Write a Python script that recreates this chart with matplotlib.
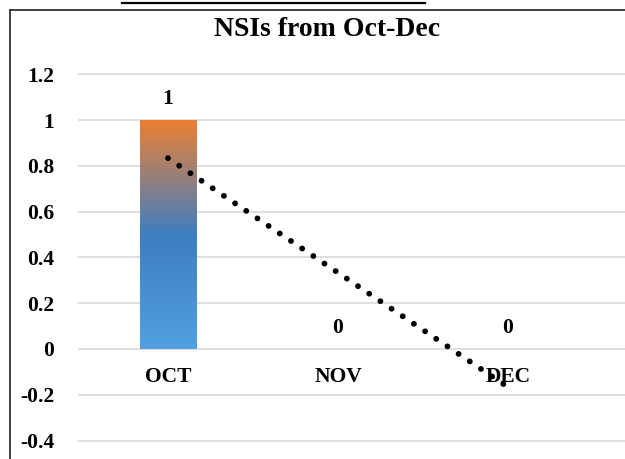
import numpy as np
import matplotlib
matplotlib.use("Agg")
import matplotlib.pyplot as plt
from matplotlib.colors import LinearSegmentedColormap
from matplotlib.lines import Line2D

months = ["OCT", "NOV", "DEC"]
nsi_counts = [1, 0, 0]
y_ticks = [-0.4, -0.2, 0, 0.2, 0.4, 0.6, 0.8, 1, 1.2]

plt.rcParams["font.family"] = ["Liberation Serif", "DejaVu Serif"]

W, H = 625, 459
fig = plt.figure(figsize=(W / 100, H / 100), dpi=100)

# plot area in pixels: left 78, right 700 (goes off the picture), top 60, bottom 500
ax = fig.add_axes([78 / W, (H - 500) / H, (700 - 78) / W, 440 / H])
x = np.arange(len(months))
ax.set_xlim((78 - 168) / 170, (700 - 168) / 170)
ax.set_ylim((349 - 500) / 229, (349 - 60) / 229)

for s in ax.spines.values():
    s.set_visible(False)
ax.set_yticks(y_ticks)
ax.set_yticklabels([f"{v:g}" for v in y_ticks], fontsize=15.5, fontweight="bold")
ax.tick_params(axis="y", length=0, pad=17)
ax.set_xticks([])
ax.grid(axis="y", color="#d9d9d9", linewidth=1.2)
ax.set_axisbelow(True)

# gradient bars
cmap = LinearSegmentedColormap.from_list(
    "og", [(0, "#52a0e2"), (0.5, "#3d7ebf"), (0.68, "#7d8090"), (1, "#ec7f33")])
bars = ax.bar(x, nsi_counts, width=0.335, color="none", edgecolor="none", zorder=2)
for b, v in zip(bars, nsi_counts):
    if v == 0:
        continue
    grad = np.linspace(0, 1, 256).reshape(-1, 1)
    im = ax.imshow(grad, cmap=cmap, origin="lower", aspect="auto",
                   extent=[b.get_x(), b.get_x() + b.get_width(), 0, v], zorder=2)
    im.set_clip_path(b)

# data labels and category labels
for xi, v, m in zip(x, nsi_counts, months):
    ax.annotate(f"{v:g}", (xi, v), xytext=(0, 8), textcoords="offset points",
                ha="center", va="bottom", fontsize=15.5, fontweight="bold")
    ax.annotate(m, (xi, 0), xytext=(0, -13), textcoords="offset points",
                ha="center", va="top", fontsize=15.5, fontweight="bold")

# linear trendline
k, c = np.polyfit(x, nsi_counts, 1)
ax.plot(x, k * x + c, color="black", linewidth=4.2, dashes=(0.01, 2.3),
        dash_capstyle="round", zorder=3)

fig.text(327 / W, 1 - 29 / H, "NSIs from Oct-Dec", ha="center", va="center",
         fontsize=20, fontweight="bold")

# chart border (left and top) and the cropped caption underline
fig.add_artist(Line2D([9.5 / W, 9.5 / W], [0, 1 - 10 / H], color="#333333", linewidth=1.3))
fig.add_artist(Line2D([9.5 / W, 1], [1 - 10 / H, 1 - 10 / H], color="#333333", linewidth=1.3))
fig.add_artist(Line2D([122 / W, 425 / W], [1 - 3 / H, 1 - 3 / H], color="black", linewidth=1.6))

fig.savefig("out.png", dpi=100)
